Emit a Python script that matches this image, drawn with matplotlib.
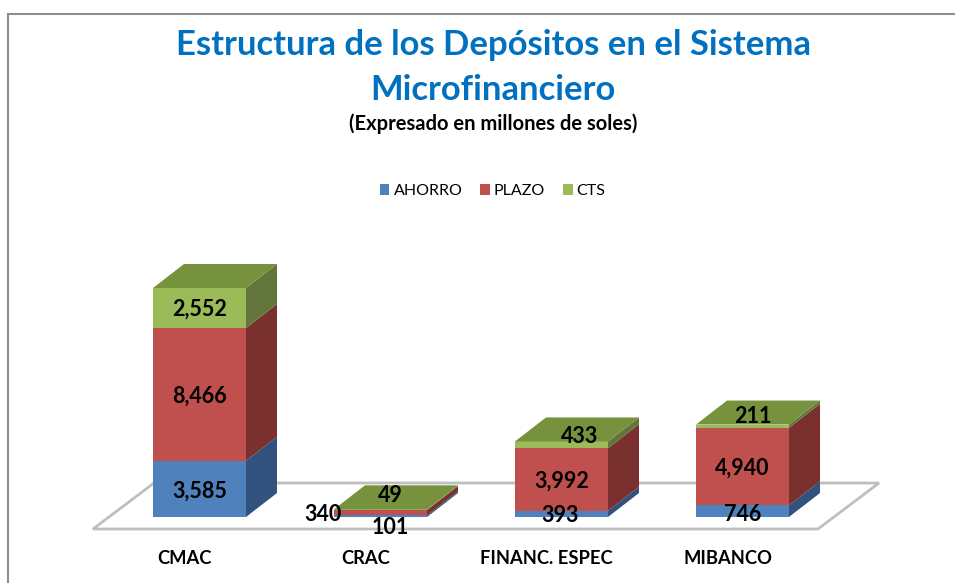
import matplotlib
matplotlib.use('Agg')
import matplotlib.pyplot as plt
from matplotlib.patches import Polygon, Rectangle

plt.rcParams['font.family'] = ['Lato', 'DejaVu Sans']

# Data (millones de soles)
categories = ['CMAC', 'CRAC', 'FINANC. ESPEC', 'MIBANCO']
series_names = ['AHORRO', 'PLAZO', 'CTS']
ahorro = [3585, 101, 393, 746]
plazo = [8466, 340, 3992, 4940]
cts = [2552, 49, 433, 211]
series = [ahorro, plazo, cts]

front_colors = ['#4F81BD', '#C0504D', '#9BBB59']
side_colors = ['#30527C', '#7A302E', '#62753A']
top_color = '#76923C'

# label nudges in pixels, the labels were moved by hand in the original
label_offsets = [
    [(0, -2), (10, -11), (-1, -2), (0, -3)],
    [(0, -2), (-58, -2), (0, -2), (0, -2)],
    [(0, -1), (10, 14), (18, 8), (10, 10)],
]

W, H = 955, 583
fig = plt.figure(figsize=(W / 100, H / 100), dpi=100)

# scale of the chart
px_per_cat = 181.0
px_per_val = 0.01568
x0_px, y0_px = 199.5, 517
axes_bottom_px, axes_top_px = 529, 200

ax = fig.add_axes([0, 1 - axes_bottom_px / H, 1, (axes_bottom_px - axes_top_px) / H])
ax.set_xlim(-x0_px / px_per_cat, (W - x0_px) / px_per_cat)
ax.set_ylim((y0_px - axes_bottom_px) / px_per_val, (y0_px - axes_top_px) / px_per_val)
for s in ax.spines.values():
    s.set_visible(False)
ax.set_yticks([])

bar_w = 93 / px_per_cat
dx = 31 / px_per_cat
dy = 24 / px_per_val

# floor
fl = 12 / px_per_val
floor = Polygon([(-106.5 / px_per_cat, -fl), (618.5 / px_per_cat, -fl),
                 (679.5 / px_per_cat, -fl + 46 / px_per_val), (-45.5 / px_per_cat, -fl + 46 / px_per_val)],
                closed=True, facecolor='white', edgecolor='#BFBFBF', linewidth=2, zorder=1, clip_on=False)
ax.add_patch(floor)

bottoms = [0, 0, 0, 0]
handles = []
for j, vals in enumerate(series):
    bars = ax.bar(range(len(categories)), vals, bar_w, bottom=bottoms, color=front_colors[j],
                  label=series_names[j], zorder=3, clip_on=False)
    handles.append(bars)
    for i, v in enumerate(vals):
        b = bottoms[i]
        r = i + bar_w / 2
        ax.add_patch(Polygon([(r, b), (r + dx, b + dy), (r + dx, b + v + dy), (r, b + v)],
                             closed=True, facecolor=side_colors[j], edgecolor='none', zorder=2, clip_on=False))
        ax.annotate(f'{v:,}', (i, b + v / 2), xytext=label_offsets[j][i], textcoords='offset pixels',
                    ha='center', va='center', fontsize=15.5, fontweight='bold', color='black',
                    zorder=6, annotation_clip=False)
    bottoms = [b + v for b, v in zip(bottoms, vals)]

# top faces
for i, t in enumerate(bottoms):
    l = i - bar_w / 2
    r = i + bar_w / 2
    ax.add_patch(Polygon([(l, t), (r, t), (r + dx, t + dy), (l + dx, t + dy)],
                         closed=True, facecolor=top_color, edgecolor='none', zorder=4, clip_on=False))

ax.set_xticks([i - 15 / px_per_cat for i in range(len(categories))])
ax.set_xticklabels(categories, fontsize=13.2, fontweight='bold')
ax.tick_params(axis='x', length=0, pad=15)

# chart border
fig.add_artist(Rectangle((7.5 / W, -0.1), 1.2, 0.1 + 1 - 14 / H, transform=fig.transFigure,
                         facecolor='none', edgecolor='#8C8C8C', linewidth=1.5))

fig.text(493 / W, 1 - 45 / H, 'Estructura de los Depósitos en el Sistema', ha='center', va='center',
         fontsize=24.9, fontweight='bold', color='#0070C0')
fig.text(493 / W, 1 - 90 / H, 'Microfinanciero', ha='center', va='center',
         fontsize=24.9, fontweight='bold', color='#0070C0')
fig.text(493 / W, 1 - 124 / H, '(Expresado en millones de soles)', ha='center', va='center',
         fontsize=14.5, fontweight='bold', color='black')

fig.legend(handles=handles, labels=series_names, ncol=3, loc='center', bbox_to_anchor=(492.5 / W, 1 - 191 / H),
           frameon=False, fontsize=11.5, handlelength=0.62, handleheight=0.62, handletextpad=0.25, columnspacing=1.1)

fig.savefig('out.png', dpi=100)
